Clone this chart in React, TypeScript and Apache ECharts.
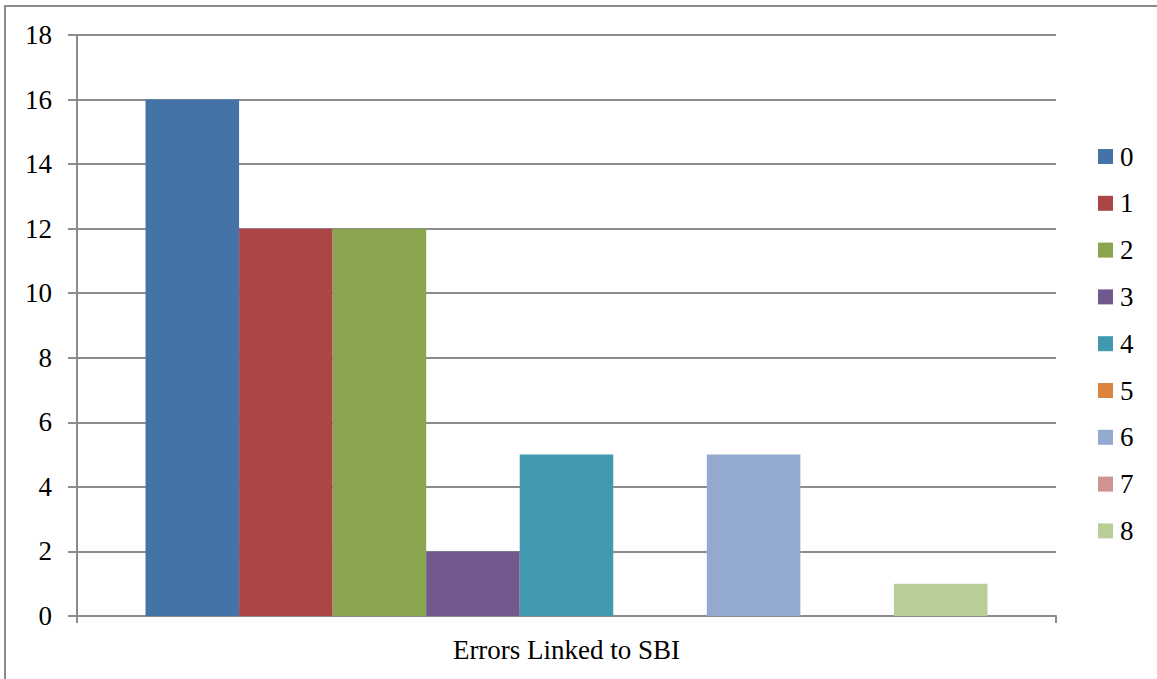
import React, { useEffect, useRef } from "react";
import * as echarts from "echarts";

const categories = ["Errors Linked to SBI"];
const seriesNames = ["0", "1", "2", "3", "4", "5", "6", "7", "8"];
const seriesValues = [16, 12, 12, 2, 5, 0, 5, 0, 1];
const seriesColors = [
  "#4572A7", "#AA4643", "#89A54E", "#71588F", "#4198AF",
  "#DB843D", "#93A9CF", "#D19392", "#B9CD96",
];
const yTicks = { min: 0, max: 18, interval: 2 };

export default function App() {
  const ref = useRef<HTMLDivElement>(null);
  useEffect(() => {
    if (!ref.current) return;
    const chart = echarts.init(ref.current, null, { renderer: "svg" });
    const font = "'Liberation Serif', 'DejaVu Serif', serif";
    const fs = 27;
    chart.setOption({
      animation: false,
      backgroundColor: "#ffffff",
      textStyle: { fontFamily: font },
      graphic: [
        {
          type: "rect",
          shape: { x: 5, y: 6, width: 1200, height: 720 },
          style: { fill: "none", stroke: "#8c8c8c", lineWidth: 2 },
          silent: true,
        },
      ],
      grid: { left: 77, right: 101, top: 35, bottom: 63, containLabel: false },
      legend: {
        orient: "vertical",
        left: 1093,
        top: 138,
        itemWidth: 15,
        itemHeight: 15,
        itemGap: 19.8,
        icon: "rect",
        textStyle: {
          fontFamily: font,
          fontSize: fs,
          lineHeight: 27,
          color: "#000",
          padding: [0, 0, 0, 2],
        },
        data: seriesNames,
      },
      xAxis: {
        type: "category",
        data: categories,
        axisLine: { show: true, lineStyle: { color: "#8c8c8c", width: 2 } },
        axisTick: { show: true, length: 7, lineStyle: { color: "#8c8c8c", width: 2 } },
        axisLabel: { fontFamily: font, fontSize: fs, color: "#000", margin: 20 },
        splitLine: { show: false },
      },
      yAxis: {
        type: "value",
        min: yTicks.min,
        max: yTicks.max,
        interval: yTicks.interval,
        axisLine: { show: true, lineStyle: { color: "#8c8c8c", width: 2 } },
        axisTick: { show: true, length: 9, lineStyle: { color: "#8c8c8c", width: 2 } },
        axisLabel: { fontFamily: font, fontSize: fs, color: "#000", margin: 25 },
        splitLine: { show: true, lineStyle: { color: "#8c8c8c", width: 2 } },
      },
      series: seriesNames.map((name, i) => ({
        name,
        type: "bar",
        data: [seriesValues[i]],
        itemStyle: { color: seriesColors[i] },
        barGap: "0%",
        barCategoryGap: "14%",
      })),
    });
    return () => chart.dispose();
  }, []);
  return (
    <div
      ref={ref}
      style={{ position: "absolute", left: 0, top: 0, width: 1157, height: 679 }}
    />
  );
}
